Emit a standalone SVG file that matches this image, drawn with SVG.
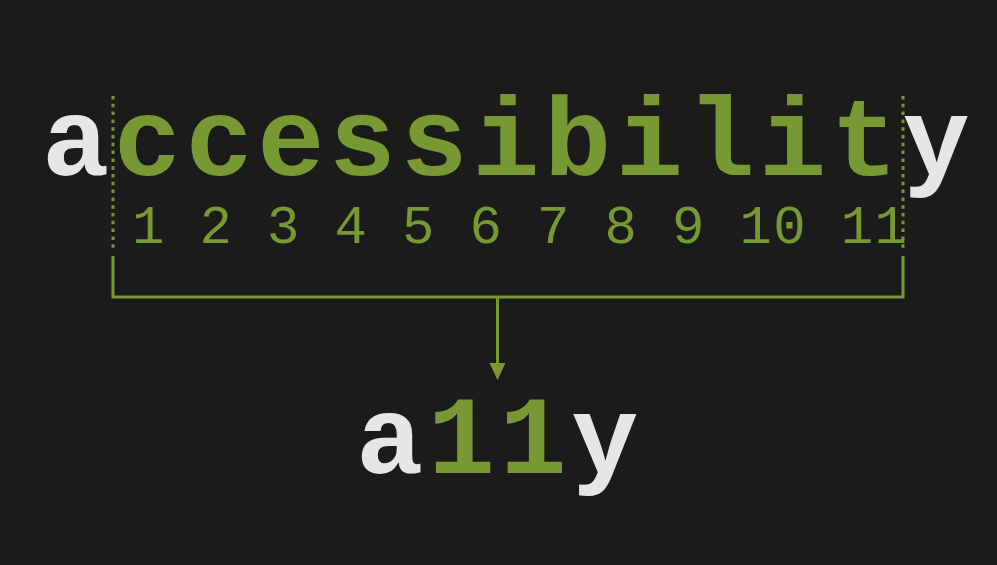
<svg xmlns="http://www.w3.org/2000/svg" width="997" height="565" viewBox="0 0 997 565">
<style>
.big{font-family:"Liberation Mono","Courier New",monospace;font-weight:bold;font-size:112px;letter-spacing:4.5px}
.w{fill:#e6e6e6}
.g{fill:#779933}
.num{font-family:"Liberation Mono","Courier New",monospace;font-size:54px;letter-spacing:1.35px;fill:#779933}
.ln{stroke:#779933;stroke-width:3;fill:none}
.dot{stroke:#779933;stroke-width:3;stroke-dasharray:3.5 4.3;fill:none}
</style>
<rect width="997" height="565" fill="#1b1b1b"/>
<g id="word">
<text class="big" x="42" y="175"><tspan class="w">a</tspan><tspan class="g">ccessibilit</tspan><tspan class="w">y</tspan></text>
</g>
<g id="numbers">
<text class="num" x="132" y="243" xml:space="preserve">1 2 3 4 5 6 7 8 9 10 11</text>
</g>
<g id="connectors">
<line class="dot" x1="113" y1="96" x2="113" y2="252"/>
<line class="dot" x1="903" y1="96" x2="903" y2="252"/>
<path class="ln" d="M113,256 V297 H903 V256"/>
<line class="ln" x1="497.5" y1="297" x2="497.5" y2="366"/>
<path d="M489.5,363 L505.5,363 L497.5,380 Z" fill="#779933"/>
</g>
<g id="abbr">
<text class="big" x="356" y="473"><tspan class="w">a</tspan><tspan class="g">11</tspan><tspan class="w">y</tspan></text>
</g>
</svg>
